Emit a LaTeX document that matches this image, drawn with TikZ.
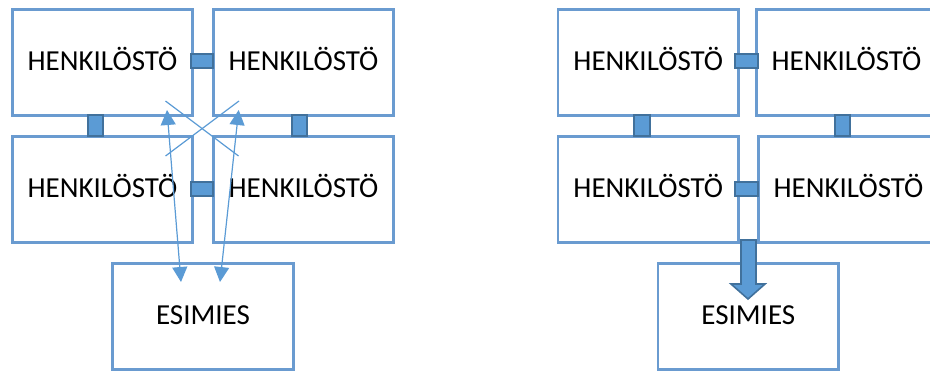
\documentclass[tikz,border=0pt]{standalone}
\usepackage{fontspec}
\setmainfont{Carlito}
\usetikzlibrary{arrows.meta}
\definecolor{boxblue}{HTML}{6A9BD0}
\definecolor{fillblue}{HTML}{5B9BD5}
\definecolor{darkblue}{HTML}{41719C}
\begin{document}
\begin{tikzpicture}[x=1pt,y=-1pt,
  staff/.style={draw=boxblue, line width=2.6pt, minimum width=180.5pt, minimum height=106.5pt, inner sep=0pt, text height=19pt, text depth=4pt, font=\fontsize{29}{34}\selectfont},
  link/.style={draw=darkblue, fill=fillblue, line width=1.6pt, inner sep=0pt},
  hlink/.style={link, minimum width=22.5pt, minimum height=14.5pt},
  vlink/.style={link, minimum width=15.5pt, minimum height=21.5pt},
  thinline/.style={draw=fillblue, line width=1.2pt},
  dblarrow/.style={thinline, {Triangle[length=15pt,width=15pt]}-{Triangle[length=15pt,width=15pt]}},
  bigarrow/.style={draw=darkblue, fill=fillblue, line width=1.6pt, line join=miter}]
\useasboundingbox (0,0) rectangle (930,372);
% left diagram
\node[staff] (lTL) at (102.5,62.5) {HENKILÖSTÖ};
\node[staff] (lTR) at (303.5,62.5) {HENKILÖSTÖ};
\node[staff] (lBL) at (102.5,189.5) {HENKILÖSTÖ};
\node[staff] (lBR) at (303.5,189.5) {HENKILÖSTÖ};
\node[staff] (lE) at (203,316.5) {ESIMIES};
\node[hlink] (lh1) at (202,61) {};
\node[hlink] (lh2) at (202,189) {};
\node[vlink] (lv1) at (95.5,125.5) {};
\node[vlink] (lv2) at (299.5,125.5) {};
\coordinate (xa) at (165.5,101);
\coordinate (xb) at (238.5,156);
\coordinate (xc) at (239,101);
\coordinate (xd) at (165.5,156);
\draw[thinline] (xa) -- (xb);
\draw[thinline] (xc) -- (xd);
\coordinate (a1t) at (167,110);
\coordinate (a1b) at (181,282);
\coordinate (a2t) at (238.7,110);
\coordinate (a2b) at (220,282);
\draw[dblarrow] (a1t) -- (a1b);
\draw[dblarrow] (a2t) -- (a2b);
% right diagram
\node[staff] (rTL) at (648.3,62.5) {HENKILÖSTÖ};
\node[staff] (rTR) at (846.5,62.5) {HENKILÖSTÖ};
\node[staff] (rBL) at (648.3,189.5) {HENKILÖSTÖ};
\node[staff] (rBR) at (848.5,189.5) {HENKILÖSTÖ};
\node[staff] (rE) at (748.3,316.5) {ESIMIES};
\node[hlink] (rh1) at (746.5,61) {};
\node[hlink] (rh2) at (746.5,189) {};
\node[vlink] (rv1) at (642,125.5) {};
\node[vlink] (rv2) at (842.5,125.5) {};
\draw[bigarrow] (741,240) -- (756,240) -- (756,284) -- (765,284) -- (748,299) -- (731,284) -- (741,284) -- cycle;
\end{tikzpicture}
\end{document}
